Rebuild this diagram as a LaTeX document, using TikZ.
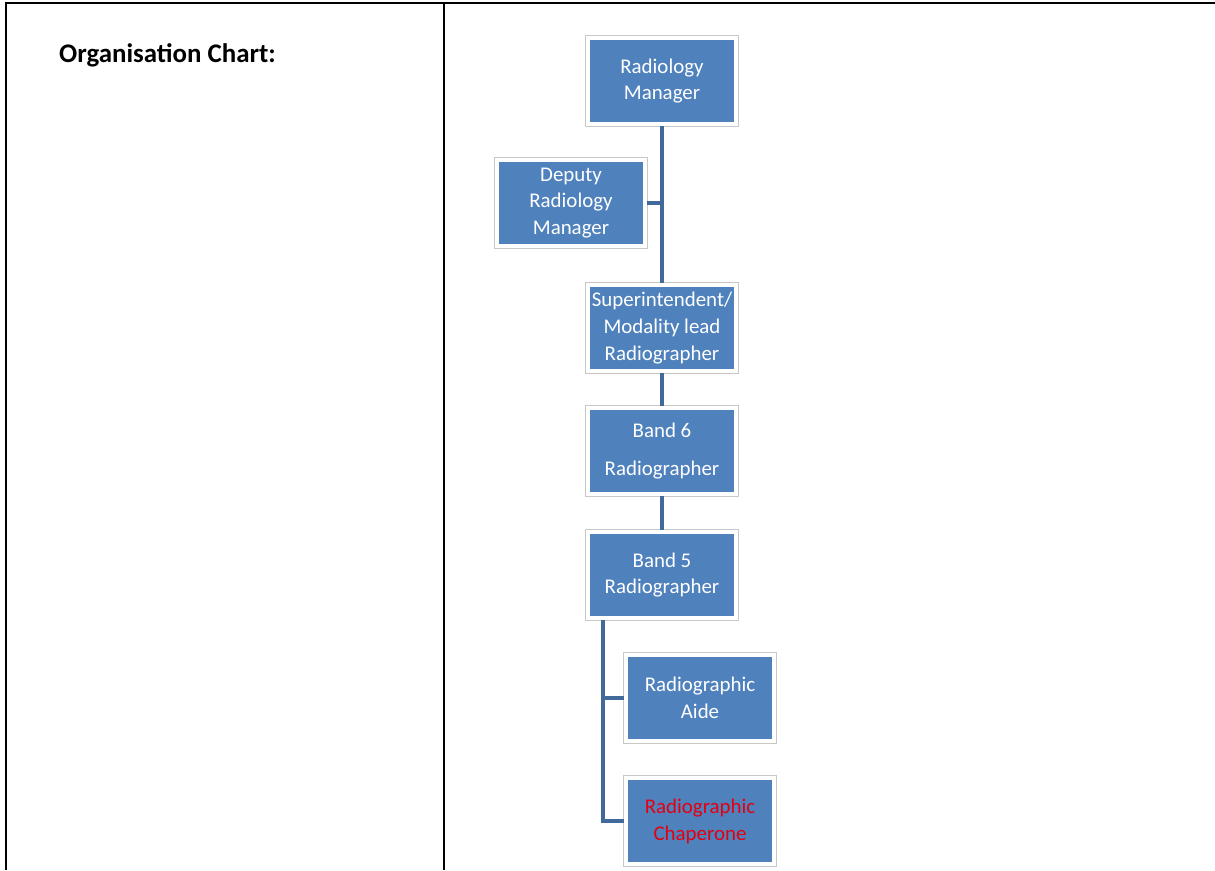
\documentclass[tikz,border=0pt]{standalone}
\usepackage{fontspec}
\setmainfont{Carlito}
\definecolor{boxblue}{HTML}{4F81BD}
\definecolor{linkblue}{HTML}{41699A}
\definecolor{chapred}{HTML}{E3000F}
\begin{document}
\begin{tikzpicture}[x=0.02cm, y=-0.02cm, every node/.style={font=\fontsize{11.9}{15.3}\selectfont},
                box/.style={rectangle, fill=boxblue, draw=white, line width=2pt, preaction={draw=black!22, line width=3pt},
                            text=white, align=center, minimum width=2.96cm, minimum height=1.72cm, inner sep=1pt},
                link/.style={draw=linkblue, line width=2.1pt},
                rule/.style={line width=1.4pt}]

                \useasboundingbox (0,0) rectangle (1215,870);

                \draw[rule] (5,3) -- (1215,3);
                \draw[rule] (6,3) -- (6,870);
                \draw[rule] (444,3) -- (444,870);

                \node[anchor=base west, font=\fontsize{15.3}{18}\selectfont\bfseries] at (53,62) (title) {Organisation Chart:};

                \node[box] at (662, 81) (rm) {Radiology\\Manager};
                \node[box] at (571, 203) (dep) {Deputy\\Radiology\\Manager};
                \node[box] at (662, 328) (sup) {Superintendent/\\Modality lead\\Radiographer};
                \node[box] at (662, 451) (b6) {Band 6\\[6pt]Radiographer};
                \node[box] at (662, 575) (b5) {Band 5\\Radiographer};
                \node[box] at (700, 698) (aide) {Radiographic\\Aide};
                \node[box, text=chapred] at (700, 821) (chap) {Radiographic\\Chaperone};

                \coordinate (trunk) at (603, 619);

                \path[link] (rm.south) -- (sup.north);
                \path[link] (dep.east) -- (rm.south |- dep.east);
                \path[link] (sup.south) -- (b6.north);
                \path[link] (b6.south) -- (b5.north);
                \path[link] (trunk |- b5.south) |- (chap.west);
                \path[link] (aide.west) -- (trunk |- aide.west);

            \end{tikzpicture}
\end{document}
